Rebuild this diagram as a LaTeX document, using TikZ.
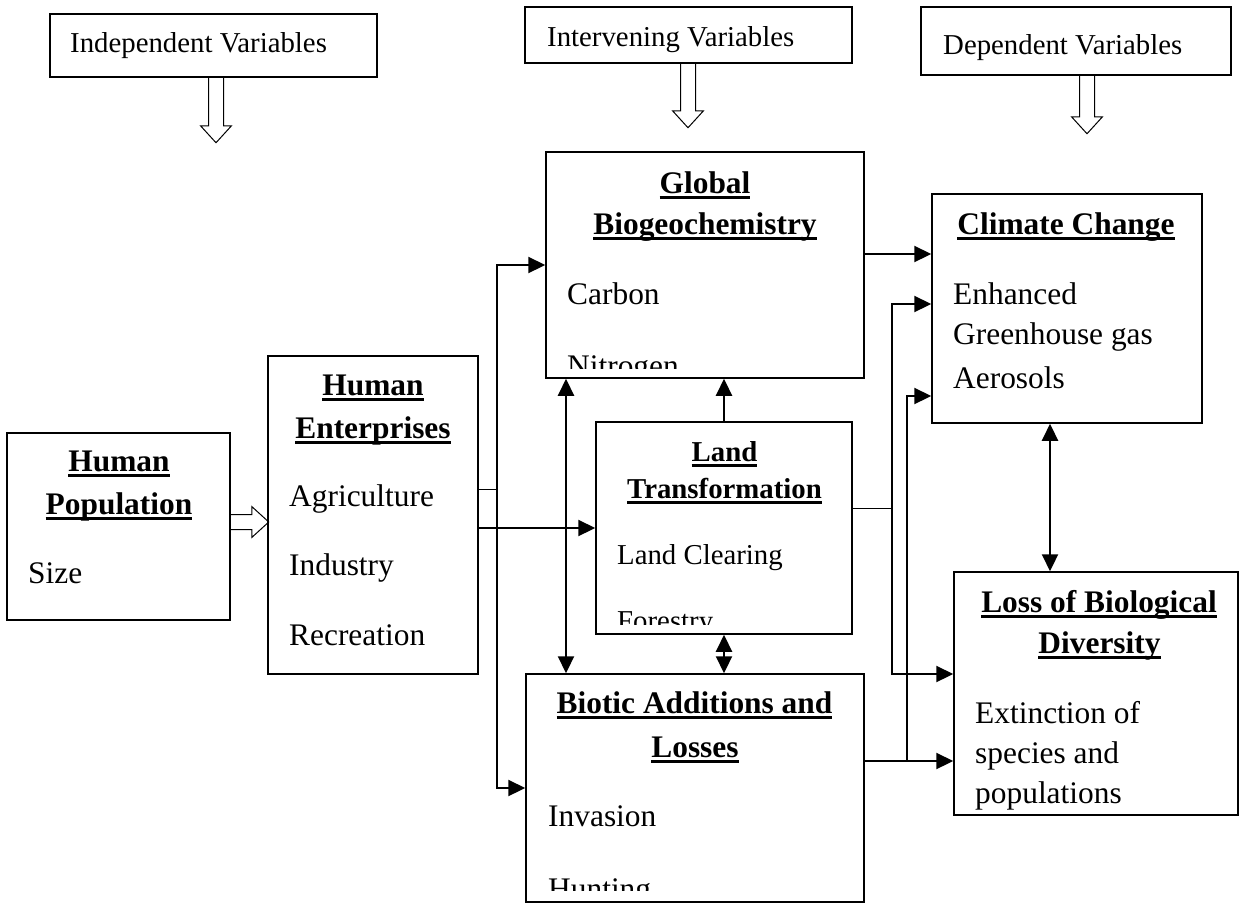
\documentclass[tikz,border=0pt]{standalone}
\usepackage{fontspec}
\setmainfont{Liberation Serif}
\usetikzlibrary{arrows.meta}

\newcommand\bigtxt{\fontsize{31.4}{38}\selectfont}
\newcommand\smltxt{\fontsize{28.8}{35}\selectfont}
\newcommand\ttl[1]{\setbox0=\hbox{\bfseries #1}\rlap{\rule[-0.2em]{\wd0}{0.09em}}\box0}
\newcommand\hollowarrow[3]{%
  \begin{scope}[shift={(#1)}, rotate=#3]
    \draw[line width=1pt] (-7.5,0) -- (-7.5,#2-17) -- (-15.5,#2-17) -- (0,#2)
      -- (15.5,#2-17) -- (7.5,#2-17) -- (7.5,0);
  \end{scope}}

\begin{document}
\begin{tikzpicture}[x=1pt, y=-1pt,
    box/.style={draw, line width=1.5pt, inner sep=0pt},
    txt/.style={inner sep=0pt, font=\bigtxt},
    small/.style={inner sep=0pt, font=\smltxt},
    wire/.style={line width=2.2pt},
    thinline/.style={line width=1pt},
    arr/.style={wire, -{Triangle[length=17pt,width=16pt]}},
    dbl/.style={wire, {Triangle[length=17pt,width=16pt]}-{Triangle[length=17pt,width=16pt]}}
  ]
  \fill[white] (0,0) rectangle (1241,905);
  \useasboundingbox (0,0) rectangle (1241,905);

  \node[box, minimum width=327pt, minimum height=63pt] (indep) at (213.5,45.5) {};
  \node[box, minimum width=327pt, minimum height=56pt] (interv) at (688.5,35) {};
  \node[box, minimum width=310pt, minimum height=68pt] (dep) at (1076,41) {};
  \node[box, minimum width=223pt, minimum height=187pt] (hp) at (118.5,526.5) {};
  \node[box, minimum width=210pt, minimum height=318pt] (he) at (373,515) {};
  \node[box, minimum width=318pt, minimum height=226pt] (gb) at (705,265) {};
  \node[box, minimum width=270pt, minimum height=229pt] (cc) at (1067,308.5) {};
  \node[box, minimum width=256pt, minimum height=212pt] (lt) at (724,528) {};
  \node[box, minimum width=284pt, minimum height=243pt] (lbd) at (1096,693.5) {};
  \node[box, minimum width=338pt, minimum height=228pt] (bio) at (695,788) {};

  \node[small, anchor=base west] (indepT) at (70,52) {Independent Variables};
  \node[small, anchor=base west] (intervT) at (547,46) {Intervening Variables};
  \node[small, anchor=base west] (depT) at (943,54) {Dependent Variables};

  \hollowarrow{[xshift=2.5pt]indep.south}{65}{0}
  \hollowarrow{[xshift=-0.5pt]interv.south}{64}{0}
  \hollowarrow{[xshift=11pt]dep.south}{58}{0}
  \hollowarrow{[yshift=4.5pt]hp.east}{38}{90}

  \node[txt, anchor=base] (hpT1) at (119,471) {\ttl{Human}};
  \node[txt, anchor=base] (hpT2) at (119,514) {\ttl{Population}};
  \node[txt, anchor=base west] (hpT3) at (28,583) {Size};

  \node[txt, anchor=base] (heT1) at (373,395) {\ttl{Human}};
  \node[txt, anchor=base] (heT2) at (373,438) {\ttl{Enterprises}};
  \node[txt, anchor=base west] (heT3) at (289,506) {Agriculture};
  \node[txt, anchor=base west] (heT4) at (289,575) {Industry};
  \node[txt, anchor=base west] (heT5) at (289,645) {Recreation};

  \node[txt, anchor=base] (gbT1) at (705,193) {\ttl{Global}};
  \node[txt, anchor=base] (gbT2) at (705,234) {\ttl{Biogeochemistry}};
  \node[txt, anchor=base west] (gbT3) at (567,304) {Carbon};
  \begin{scope}
    \clip (gb.north west) rectangle ([yshift=10pt]gb.south east);
    \node[txt, anchor=base west] (gbT4) at (567,376) {Nitrogen};
  \end{scope}

  \node[txt, anchor=base] (ccT1) at (1066,234) {\ttl{Climate Change}};
  \node[txt, anchor=base west] (ccT2) at (953,304) {Enhanced};
  \node[txt, anchor=base west] (ccT3) at (953,344) {Greenhouse gas};
  \node[txt, anchor=base west] (ccT4) at (953,388) {Aerosols};

  \node[small, anchor=base] (ltT1) at (724.5,461) {\ttl{Land}};
  \node[small, anchor=base] (ltT2) at (724.5,498) {\ttl{Transformation}};
  \node[small, anchor=base west] (ltT3) at (617,564) {Land Clearing};
  \begin{scope}
    \clip (lt.north west) rectangle ([yshift=10pt]lt.south east);
    \node[small, anchor=base west] (ltT4) at (617,630) {Forestry};
  \end{scope}

  \node[txt, anchor=base] (bioT1) at (694.5,713) {\ttl{Biotic Additions and}};
  \node[txt, anchor=base] (bioT2) at (695,757) {\ttl{Losses}};
  \node[txt, anchor=base west] (bioT3) at (548,826) {Invasion};
  \begin{scope}
    \clip (bio.north west) rectangle ([yshift=12pt]bio.south east);
    \node[txt, anchor=base west] (bioT4) at (548,899) {Hunting};
  \end{scope}

  \node[txt, anchor=base] (lbdT1) at (1099,612) {\ttl{Loss of Biological}};
  \node[txt, anchor=base] (lbdT2) at (1099.5,653) {\ttl{Diversity}};
  \node[txt, anchor=base west] (lbdT3) at (975,723) {Extinction of};
  \node[txt, anchor=base west] (lbdT4) at (975,763) {species and};
  \node[txt, anchor=base west] (lbdT5) at (975,803) {populations};

  \coordinate (b1) at (497,265);
  \coordinate (heA) at ([yshift=26pt]he.east);
  \draw[dbl] (gb.west) -- (b1) -- (b1 |- bio.west) -- (bio.west);
  \draw[thinline] (heA) -- (heA -| b1);
  \draw[arr] (lt.west -| he.east) -- (lt.west);

  \coordinate (v1) at (566,0);
  \draw[dbl] (v1 |- gb.south) -- (v1 |- bio.north);
  \draw[arr] (lt.north) -- (lt.north |- gb.south);
  \draw[dbl] (lt.south) -- (lt.south |- bio.north);

  \coordinate (gA) at ([yshift=11pt]gb.east);
  \draw[arr] (gA) -- (gA -| cc.west);

  \coordinate (r1) at (892,304);
  \coordinate (r2) at (892,674);
  \coordinate (ltA) at ([yshift=20pt]lt.east);
  \draw[dbl] (r1 -| cc.west) -- (r1) -- (r2) -- (r2 -| lbd.west);
  \draw[thinline] (ltA) -- (ltA -| r1);

  \coordinate (r3) at (907,396);
  \coordinate (r4) at (907,761);
  \draw[arr] (r4) -- (r3) -- (r3 -| cc.west);
  \draw[arr] (r4 -| bio.east) -- (r4 -| lbd.west);

  \coordinate (v2) at (1050,0);
  \draw[dbl] (v2 |- cc.south) -- (v2 |- lbd.north);
\end{tikzpicture}
\end{document}
